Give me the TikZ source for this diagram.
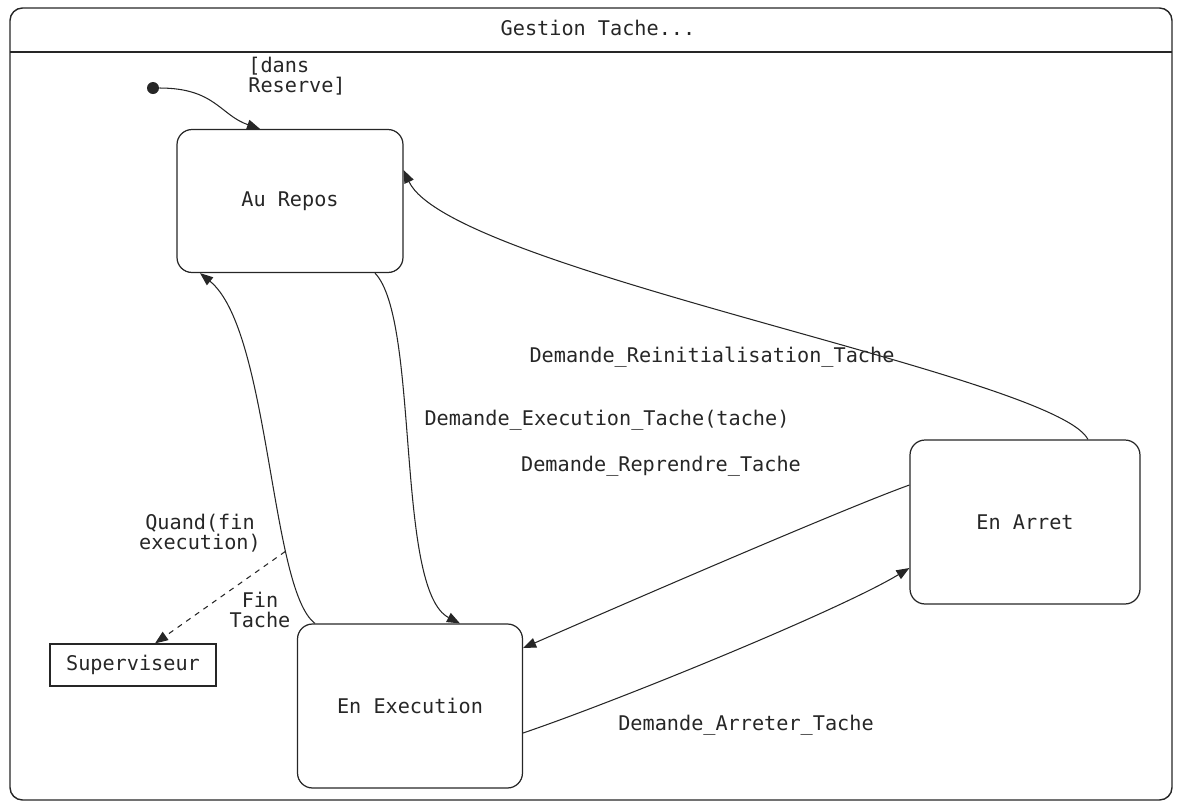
\documentclass[tikz,border=0pt]{standalone}
\usepackage{fontspec}
\usepackage{tikz}
\usetikzlibrary{arrows.meta,positioning}
\newfontfamily\gtmono{DejaVu Sans Mono}
\newcommand{\gtfont}{\gtmono\fontsize{11.5}{11.5}\selectfont}
\definecolor{GtInk}{HTML}{262626}

\begin{document}
\begin{tikzpicture}[x=0.02cm, y=-0.02cm,
  state/.style={draw=GtInk, line width=0.7pt, rounded corners=0.3cm, font=\gtfont, text=GtInk},
  lbl/.style={font=\gtfont, text=GtInk, inner sep=0pt},
  trans/.style={draw=GtInk, line width=0.6pt, -{Triangle[length=2.6mm, width=2mm]}}]
\useasboundingbox (0,0) rectangle (1178,806);

% Draw frame
\draw[GtInk, line width=0.8pt, rounded corners=0.25cm] (10,8) rectangle (1172,800);
\draw[GtInk, line width=0.8pt] (10,52) -- (1172,52);
\node[lbl] (title) at (598,28) {Gestion Tache...};

% States
\foreach \nm/\px/\py/\w/\h/\txt in {
  repos/290/201/4.52/2.86/Au Repos,
  exec/410/706/4.5/3.28/En Execution,
  arret/1025/522/4.6/3.28/En Arret}
{
  \node[state, minimum width=\w cm, minimum height=\h cm] (\nm) at (\px,\py) {\txt};
}

\node[draw=GtInk, line width=0.7pt, minimum width=3.32cm, minimum height=0.84cm, font=\gtfont, text=GtInk] (superv) at (133,665) {Superviseur};
\node[circle, fill=GtInk, minimum size=0.24cm, inner sep=0pt] (init) at (153,88) {};

% Transitions
\draw[trans] (init.east) .. controls (215,88) and (220,115) .. ([xshift=-0.6cm]repos.north);
\draw[trans] ([xshift=1.7cm]repos.south) .. controls (420,320) and (395,590) .. ([xshift=1cm]exec.north);
\draw[trans] ([xshift=-1.9cm]exec.north) .. controls (270,590) and (270,330) .. coordinate[pos=0.28] (quand) ([xshift=-1.8cm]repos.south);
\draw[trans] ([xshift=1.26cm]arret.north) .. controls (1055,375) and (450,270) .. ([yshift=0.62cm]repos.east);
\draw[trans] ([yshift=0.74cm]arret.west) .. controls (840,510) and (610,610) .. ([yshift=1.16cm]exec.east);
\draw[trans] ([yshift=-0.54cm]exec.east) .. controls (620,700) and (840,610) .. ([yshift=-0.92cm]arret.west);
\draw[trans, dash pattern=on 3pt off 3pt] (quand) -- ([xshift=0.44cm]superv.north);

% Labels
\node[lbl, anchor=west, align=left] (dans) at (248,76) {[dans\\Reserve]};
\node[lbl] (reinit) at (712,357) {Demande\_Reinitialisation\_Tache};
\node[lbl] (demexec) at (607,420) {Demande\_Execution\_Tache(tache)};
\node[lbl] (reprendre) at (661,466) {Demande\_Reprendre\_Tache};
\node[lbl, align=center] (quandlbl) at (200,533) {Quand(fin\\execution)};
\node[lbl, align=center] (fin) at (260,610) {Fin\\Tache};
\node[lbl] (arreter) at (746,725) {Demande\_Arreter\_Tache};
\end{tikzpicture}
\end{document}
